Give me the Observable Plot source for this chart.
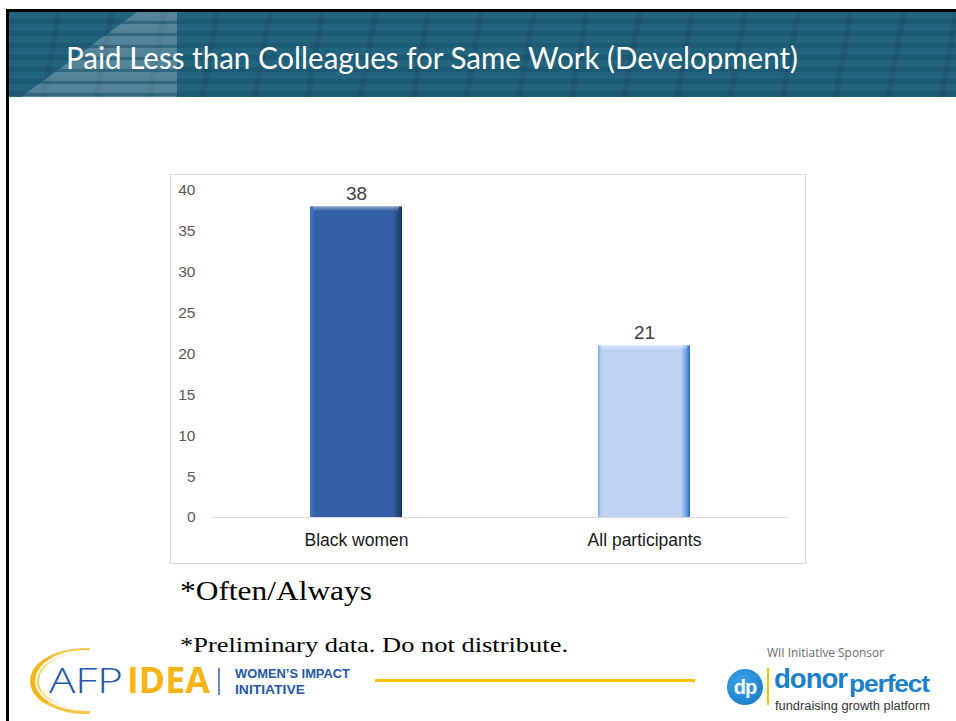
<!DOCTYPE html>
<html><head><meta charset="utf-8">
<script src="https://cdn.jsdelivr.net/npm/d3@7"></script>
<script src="https://cdn.jsdelivr.net/npm/@observablehq/plot@0.6"></script>
<style>
body{margin:0;background:#fff;}
#slide{position:relative;width:956px;height:721px;overflow:hidden;background:#fff;font-family:"Liberation Sans",Arial,sans-serif;}
.abs{position:absolute;white-space:nowrap;transform-origin:0 0;}
#topline{position:absolute;left:6px;top:9px;width:950px;height:3px;background:#000;}
#leftline{position:absolute;left:6px;top:9px;width:3px;height:712px;background:#000;}
#banner{position:absolute;left:9px;top:12px;width:947px;height:85px;overflow:hidden;
  background:
   repeating-linear-gradient(100deg, rgba(0,0,0,0) 0 46px, rgba(10,50,70,.15) 46px 52px),
   repeating-linear-gradient(180deg, #22637e 0 7px, #1d5a73 7px 12px);}
#wedge{position:absolute;left:0;top:0;width:200px;height:85px;
  clip-path:polygon(128px 0,168px 0,168px 85px,12px 85px);
  background:repeating-linear-gradient(180deg, rgba(200,210,215,.30) 0 9px, rgba(200,210,215,.12) 9px 12px);}
#title{left:66px;top:39px;font-family:Lato,"Open Sans",sans-serif;font-size:30px;color:#fff;}
#frame{position:absolute;left:170px;top:174px;width:636px;height:390px;border:1px solid #d9d9d9;box-sizing:border-box;}
#note1{left:180px;top:576px;font-family:"Liberation Serif","Times New Roman",serif;font-size:27px;color:#000;}
#note2{left:180px;top:633px;font-family:"Liberation Serif","Times New Roman",serif;font-size:21px;color:#000;}
#yline{position:absolute;left:375px;top:679px;width:320px;height:3px;background:#f7c400;}
.blue{color:#2357a8;}
.lib{font-family:"Liberation Sans",Arial,sans-serif;font-weight:700;}
</style></head>
<body>
<div id="slide">
  <div id="banner"><div id="wedge"></div></div>
  <div id="topline"></div><div id="leftline"></div>
  <div id="title" class="abs">Paid Less than Colleagues for Same Work (Development)</div>
  <div id="frame"></div>
  <div id="note1" class="abs">*Often/Always</div>
  <div id="note2" class="abs">*Preliminary data. Do not distribute.</div>

  <!-- AFP IDEA logo -->
  <div class="abs" style="left:30px;top:648px;width:110px;height:66px;border-radius:50%;border-left:5px solid #f6b516;border-top:2px solid rgba(246,181,22,.8);border-bottom:3px solid rgba(246,181,22,.8);border-right:0 solid transparent;box-sizing:border-box;clip-path:inset(0 50px 0 0);"></div>
  <div class="abs" style="left:37px;top:652px;width:100px;height:58px;border-radius:50%;border-left:2px solid #f9cf60;box-sizing:border-box;clip-path:inset(0 55px 0 0);"></div>
  <div id="afp" class="abs blue" style="left:49px;top:662px;font-family:'Open Sans',Lato,sans-serif;font-weight:300;font-size:35px;line-height:35px;">AFP</div>
  <div id="idea" class="abs" style="left:127px;top:662px;font-family:'Open Sans',Lato,sans-serif;font-weight:700;font-size:35px;line-height:35px;color:#f6b516;">IDEA</div>
  <div class="abs" style="left:218px;top:668px;width:1.5px;height:27px;background:#6a86b8;"></div>
  <div id="wii1" class="abs blue lib" style="left:235px;top:668px;font-size:12.5px;line-height:12.5px;">WOMEN’S IMPACT</div>
  <div id="wii2" class="abs blue lib" style="left:235px;top:684px;font-size:12.5px;line-height:12.5px;">INITIATIVE</div>

  <div id="yline"></div>

  <!-- donorperfect logo -->
  <div id="spons" class="abs" style="left:767px;top:647px;font-family:'Open Sans',sans-serif;font-size:12px;line-height:12px;color:#6b6b6b;">WII Initiative Sponsor</div>
  <div class="abs" style="left:727px;top:669px;width:36px;height:36px;border-radius:50%;background:radial-gradient(circle at 40% 35%, #3aa3e8, #1477c4);"></div>
  <div class="abs lib" style="left:729px;top:670px;width:32px;text-align:center;font-size:20px;line-height:34px;color:#fff;letter-spacing:-1px;">dp</div>
  <div class="abs" style="left:767px;top:668px;width:2px;height:37px;background:#f7c400;"></div>
  <div id="donor" class="abs lib" style="left:774px;top:665px;font-size:28px;line-height:28px;color:#1a80cc;letter-spacing:-1px;">donor</div>
  <div id="perfect" class="abs lib" style="left:849px;top:672px;font-size:24px;line-height:24px;color:#1a80cc;letter-spacing:-1px;">perfect</div>
  <div id="fgp" class="abs" style="left:775px;top:700px;font-family:'Liberation Sans',Arial,sans-serif;font-size:12.5px;line-height:12.5px;color:#333;">fundraising growth platform</div>
</div>
<script>
// ---- data ----
const categories = ["Black women", "All participants"];
const values = [38, 21];
const yTicks = [0, 5, 10, 15, 20, 25, 30, 35, 40];
const barColors = ["#3360a4", "#bed3f3"];

const data = categories.map((c, i) => ({category: c, value: values[i]}));
const gradIds = ["gradBar0", "gradBar1"];

const chart = Plot.plot({
  width: 634, height: 388,
  marginLeft: 41, marginRight: 17, marginTop: 15, marginBottom: 46,
  style: {fontFamily: "'Liberation Sans', Arial, sans-serif", background: "transparent", overflow: "visible"},
  x: {domain: categories, paddingInner: 0.68, paddingOuter: 0.34, label: null},
  y: {domain: [0, 40], label: null},
  color: {domain: categories, range: gradIds.map(id => `url(#${id})`)},
  marks: [
    Plot.axisY(yTicks, {tickSize: 0, tickPadding: 17, fontSize: 15.5, fill: "#595959", label: null}),
    Plot.axisX({tickSize: 0, tickPadding: 16, fontSize: 17.5, fill: "#1a1a1a", label: null}),
    Plot.ruleY([0], {stroke: "#d9d9d9", strokeWidth: 1}),
    Plot.barY(data, {x: "category", y: "value", fill: "category"}),
    Plot.barY(data, {x: "category", y1: "value", y2: "value", insetBottom: -5, insetLeft: 3, insetRight: 3, fill: "url(#gradTop)"}),
    Plot.text(data, {x: "category", y: "value", text: d => String(d.value), dy: -7, lineAnchor: "bottom", fontSize: 19, fill: "#404040"})
  ]
});

// bevel gradients
const ns = "http://www.w3.org/2000/svg";
const defs = document.createElementNS(ns, "defs");
function shade(c, k) { const h = d3.hsl(c); h.l = Math.max(0, Math.min(1, h.l * k)); return h.formatHex(); }
barColors.forEach((c, i) => {
  const g = document.createElementNS(ns, "linearGradient");
  g.setAttribute("id", gradIds[i]);
  g.setAttribute("x1", "0"); g.setAttribute("x2", "1"); g.setAttribute("y1", "0"); g.setAttribute("y2", "0");
  [[0, shade(c, i ? 0.8 : 1.25)], [0.03, shade(c, i ? 0.97 : 1.12)], [0.06, c], [0.9, c], [0.96, shade(c, i ? 0.78 : 0.75)], [1, shade(c, i ? 0.55 : 0.5)]]
    .forEach(([o, col]) => { const s = document.createElementNS(ns, "stop"); s.setAttribute("offset", o); s.setAttribute("stop-color", col); g.appendChild(s); });
  defs.appendChild(g);
});
const gt = document.createElementNS(ns, "linearGradient");
gt.setAttribute("id", "gradTop"); gt.setAttribute("x1", "0"); gt.setAttribute("x2", "0"); gt.setAttribute("y1", "0"); gt.setAttribute("y2", "1");
[[0, "rgba(255,255,255,0.45)"], [0.6, "rgba(255,255,255,0.15)"], [1, "rgba(255,255,255,0)"]].forEach(([o, col]) => {
  const s = document.createElementNS(ns, "stop"); s.setAttribute("offset", o); s.setAttribute("stop-color", col); gt.appendChild(s);
});
defs.appendChild(gt);
chart.insertBefore(defs, chart.firstChild);
document.getElementById("frame").appendChild(chart);

// fit text widths to the reference
function fit(id, w) {
  const el = document.getElementById(id);
  const r = el.getBoundingClientRect().width;
  if (r > 0) el.style.transform = `scaleX(${w / r})`;
}
fit("title", 732);
fit("note1", 192);
fit("note2", 388);
fit("afp", 74);
fit("idea", 83);
fit("wii1", 115);
fit("wii2", 70);
fit("spons", 117);
fit("donor", 73);
fit("perfect", 80);
fit("fgp", 155);
</script>
</body></html>
